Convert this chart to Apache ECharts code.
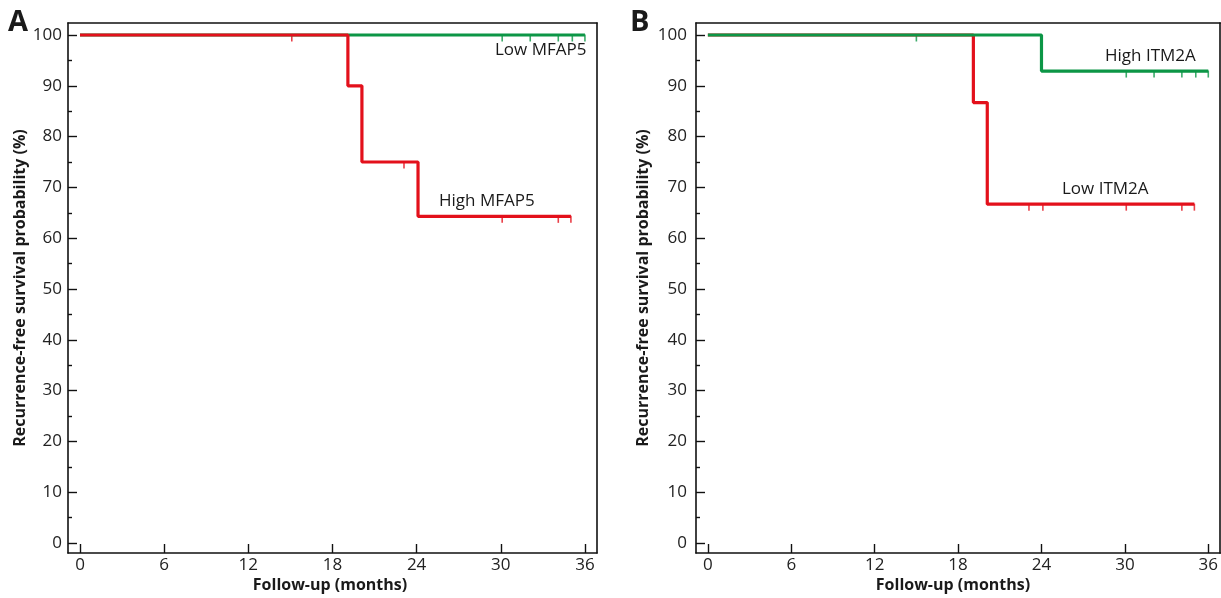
<!DOCTYPE html>
<html>
<head>
<meta charset="utf-8">
<script src="https://cdn.jsdelivr.net/npm/echarts@6/dist/echarts.min.js"></script>
<style>
html,body{margin:0;padding:0;background:#fff;}
#c{width:1221px;height:598px;}
</style>
</head>
<body>
<div id="c"></div>
<script>
// ---- data ----
var xTickLabels = [0, 6, 12, 18, 24, 30, 36];
var yTickLabels = [0, 10, 20, 30, 40, 50, 60, 70, 80, 90, 100];
var yMinorTicks = [5, 15, 25, 35, 45, 55, 65, 75, 85, 95];

// Panel A
var aHighTimes = [0, 19.1, 20.1, 24.1, 35];
var aHighSurv  = [100, 90, 75, 64.3, 64.3];
var aHighCensor = [15.1, 23.1, 30.1, 34.1, 35];
var aLowTimes = [0, 36];
var aLowSurv  = [100, 100];
var aLowCensor = [30.1, 32.1, 34.1, 35.1, 36];

// Panel B
var bHighTimes = [0, 24.0, 36];
var bHighSurv  = [100, 92.9, 92.9];
var bHighCensor = [15.0, 30.1, 32.1, 34.1, 35.1, 36];
var bLowTimes = [0, 19.1, 20.1, 35];
var bLowSurv  = [100, 86.7, 66.7, 66.7];
var bLowCensor = [23.1, 24.1, 30.1, 34.1, 35];

var RED = '#e3101b', GREEN = '#0c9646';
var FONT = '"Open Sans", "Noto Sans", sans-serif';

function pairs(t, s) { return t.map(function (v, i) { return [v, s[i]]; }); }
function survAt(t, s, x) {
  var v = s[0];
  for (var i = 0; i < t.length; i++) { if (t[i] <= x) v = s[i]; }
  return v;
}
function censorPts(t, s, c) { return c.map(function (x) { return [x, survAt(t, s, x)]; }); }

var chart = echarts.init(document.getElementById('c'), null, {renderer: 'canvas'});

var grids = [
  {left: 68, top: 23, width: 529, height: 530},
  {left: 696, top: 23, width: 529, height: 530}
];
var xMin = -0.855, xMax = 36.86, yMin = -1.97, yMax = 102.36;
var axisLineStyle = {color: '#111', width: 1.6};

var xAxes = [], yAxes = [];
[0, 1].forEach(function (g) {
  xAxes.push({
    type: 'value', gridIndex: g, position: 'bottom', min: xMin, max: xMax,
    splitLine: {show: false},
    axisLine: {show: true, onZero: false, lineStyle: axisLineStyle},
    axisTick: {show: true, inside: true, length: 9, customValues: xTickLabels, lineStyle: {color: '#111', width: 1.4}},
    axisLabel: {customValues: xTickLabels, color: '#222', fontSize: 17, fontFamily: FONT, margin: 4}
  });
  xAxes.push({
    type: 'value', gridIndex: g, position: 'top', min: xMin, max: xMax,
    splitLine: {show: false},
    axisLine: {show: true, onZero: false, lineStyle: axisLineStyle},
    axisTick: {show: false}, axisLabel: {show: false}
  });
  yAxes.push({
    type: 'value', gridIndex: g, position: 'left', min: yMin, max: yMax,
    splitLine: {show: false},
    axisLine: {show: true, onZero: false, lineStyle: axisLineStyle},
    axisTick: {show: true, inside: true, length: 9, customValues: yTickLabels, lineStyle: {color: '#111', width: 1.4}},
    axisLabel: {customValues: yTickLabels, color: '#222', fontSize: 17, fontFamily: FONT, margin: g === 0 ? 6 : 9}
  });
  yAxes.push({
    type: 'value', gridIndex: g, position: 'left', offset: 0, min: yMin, max: yMax,
    splitLine: {show: false},
    axisLine: {show: false, onZero: false},
    axisTick: {show: true, inside: true, length: 4, customValues: yMinorTicks, lineStyle: {color: '#111', width: 1.4}},
    axisLabel: {show: false}
  });
  yAxes.push({
    type: 'value', gridIndex: g, position: 'right', min: yMin, max: yMax,
    splitLine: {show: false},
    axisLine: {show: true, onZero: false, lineStyle: axisLineStyle},
    axisTick: {show: false}, axisLabel: {show: false}
  });
});

function curve(g, t, s, color) {
  return {
    type: 'line', xAxisIndex: g * 2, yAxisIndex: g * 3, step: 'end',
    data: pairs(t, s), showSymbol: false, symbol: 'none',
    lineStyle: {color: color, width: 3.2}, animation: false, silent: true
  };
}
function censors(g, t, s, c, color) {
  return {
    type: 'scatter', xAxisIndex: g * 2, yAxisIndex: g * 3,
    data: censorPts(t, s, c), symbol: 'rect', symbolSize: [1.6, 7], symbolOffset: [0, 3],
    itemStyle: {color: color}, animation: false, silent: true
  };
}

var series = [
  curve(0, aLowTimes, aLowSurv, GREEN),
  censors(0, aLowTimes, aLowSurv, aLowCensor, GREEN),
  curve(0, aHighTimes, aHighSurv, RED),
  censors(0, aHighTimes, aHighSurv, aHighCensor, RED),
  curve(1, bLowTimes, bLowSurv, RED),
  censors(1, bLowTimes, bLowSurv, bLowCensor, RED),
  curve(1, bHighTimes, bHighSurv, GREEN),
  censors(1, bHighTimes, bHighSurv, bHighCensor, GREEN)
];

function txt(x, y, s, size, weight, align, rot) {
  return {
    type: 'text', x: x, y: y, rotation: rot || 0, silent: true,
    style: {text: s, fill: '#1a1a1a', font: (weight || 'normal') + ' ' + size + 'px ' + FONT,
            textAlign: align || 'left', textVerticalAlign: 'middle'}
  };
}

var graphics = [
  txt(8, 23, 'A', 29, 'bold'),
  txt(630, 23, 'B', 29, 'bold'),
  txt(495, 50, 'Low MFAP5', 17),
  txt(439, 201, 'High MFAP5', 17),
  txt(1105, 56, 'High ITM2A', 17),
  txt(1062, 189, 'Low ITM2A', 17),
  txt(330, 585, 'Follow-up (months)', 16, 'bold', 'center'),
  txt(953, 585, 'Follow-up (months)', 16, 'bold', 'center'),
  txt(20, 288, 'Recurrence-free survival probability (%)', 16, 'bold', 'center', Math.PI / 2),
  txt(643, 288, 'Recurrence-free survival probability (%)', 16, 'bold', 'center', Math.PI / 2)
];

chart.setOption({
  backgroundColor: '#fff',
  animation: false,
  grid: grids,
  xAxis: xAxes,
  yAxis: yAxes,
  series: series,
  graphic: graphics
});
</script>
</body>
</html>
